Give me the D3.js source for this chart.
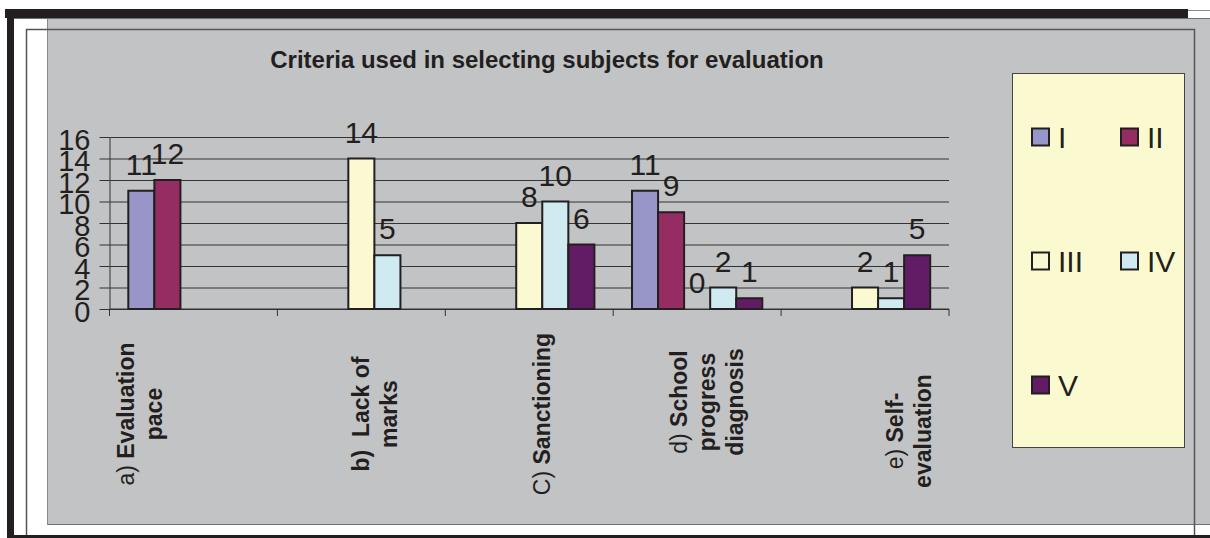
<!DOCTYPE html>
<html>
<head>
<meta charset="utf-8">
<script src="https://cdn.jsdelivr.net/npm/d3@7"></script>
<style>
  html, body { margin: 0; padding: 0; background: #ffffff; }
  svg { display: block; }
  text { font-family: "Liberation Sans", Arial, sans-serif; fill: #231f20; }
</style>
</head>
<body>
<svg id="chart" width="1210" height="538"></svg>
<script>
// ---- data ----
const categories = ["a", "b", "c", "d", "e"];
// wrapped category captions: each line is [regular part, bold part]
const categoryLines = [
  [["a) ", "Evaluation"], ["", "pace"]],
  [["", "b)\u00a0 Lack of"], ["", "marks"]],
  [["C) ", "Sanctioning"]],
  [["d) ", "School"], ["", "progress"], ["", "diagnosis"]],
  [["e) ", "Self-"], ["", "evaluation"]]
];
const seriesNames = ["I", "II", "III", "IV", "V"];
const valuesI   = [11, null, null, 11, null];
const valuesII  = [12, null, null, 9, null];
const valuesIII = [null, 14, 8, 0, 2];
const valuesIV  = [null, 5, 10, 2, 1];
const valuesV   = [null, null, 6, 1, 5];
const seriesColors = ["#9896c9", "#952d62", "#fbf9d2", "#cfebf1", "#621c65"];
const yTicks = [0, 2, 4, 6, 8, 10, 12, 14, 16];
const title = "Criteria used in selecting subjects for evaluation";

const seriesValues = [valuesI, valuesII, valuesIII, valuesIV, valuesV];

// ---- frame ----
const svg = d3.select("#chart");
const ink = "#231f20";

// grey chart area
svg.append("rect").attr("x", 47).attr("y", 18).attr("width", 1163).attr("height", 507)
  .attr("fill", "#c2c3c5");
svg.append("line").attr("x1", 47).attr("x2", 1210).attr("y1", 524.5).attr("y2", 524.5)
  .attr("stroke", "#6e6e6e").attr("stroke-width", 1);
svg.append("line").attr("x1", 47.5).attr("x2", 47.5).attr("y1", 18).attr("y2", 525)
  .attr("stroke", "#8a8a8a").attr("stroke-width", 1);
svg.append("line").attr("x1", 14).attr("x2", 1210).attr("y1", 18.5).attr("y2", 18.5)
  .attr("stroke", "#6e6e6e").attr("stroke-width", 1);

// thin inner frame
svg.append("path").attr("d", "M26.5,535 V29.5 H1194.5 V538")
  .attr("fill", "none").attr("stroke", "#555").attr("stroke-width", 1.5);

// heavy black border pieces
svg.append("rect").attr("x", 5).attr("y", 9).attr("width", 1183).attr("height", 9).attr("fill", ink);
svg.append("line").attr("x1", 1188).attr("x2", 1210).attr("y1", 10.5).attr("y2", 10.5)
  .attr("stroke", "#8a8a8a").attr("stroke-width", 1);
svg.append("rect").attr("x", 7).attr("y", 9).attr("width", 7).attr("height", 529).attr("fill", ink);
svg.append("rect").attr("x", 7).attr("y", 535).attr("width", 1203).attr("height", 3).attr("fill", ink);

// ---- title ----
svg.append("text").attr("x", 547).attr("y", 68).attr("text-anchor", "middle")
  .attr("font-size", 24).attr("font-weight", "bold").text(title);

// ---- scales ----
const plotLeft = 109.5, plotRight = 949, plotTop = 137, plotBottom = 309;
const x0 = d3.scaleBand().domain(categories).range([plotLeft, plotRight]).padding(0);
const groupFrac = 0.776;
const x1 = d3.scaleBand().domain(seriesNames)
  .range([x0.bandwidth() * (1 - groupFrac) / 2, x0.bandwidth() * (1 + groupFrac) / 2]);
const y = d3.scaleLinear().domain([0, 16]).range([plotBottom, plotTop]);

// ---- gridlines & y axis ----
const yAxis = d3.axisLeft(y).tickValues(yTicks).tickSize(-(plotRight - plotLeft)).tickSizeOuter(0)
  .tickFormat(d3.format("d")).tickPadding(19);
const gy = svg.append("g").attr("transform", `translate(${plotLeft},0)`).call(yAxis);
gy.select(".domain").attr("stroke", "#333").attr("stroke-width", 1);
gy.selectAll(".tick line").attr("stroke", "#333").attr("stroke-width", 1);
gy.selectAll(".tick").append("line").attr("x1", -10).attr("x2", 0)
  .attr("stroke", "#333").attr("stroke-width", 1);
gy.selectAll(".tick text").attr("font-size", 29).attr("fill", ink)
  .attr("font-family", "'Liberation Sans', Arial, sans-serif").attr("dy", "0.42em");

// ---- x axis with category separators ----
svg.append("line").attr("x1", plotLeft).attr("x2", plotRight).attr("y1", plotBottom).attr("y2", plotBottom)
  .attr("stroke", "#333").attr("stroke-width", 1.2);
const sepPositions = categories.map(c => x0(c)).concat([x0.range()[1]]);
svg.append("g").selectAll("line").data(sepPositions).join("line")
  .attr("x1", d => d).attr("x2", d => d).attr("y1", plotBottom).attr("y2", plotBottom + 7)
  .attr("stroke", "#333").attr("stroke-width", 1);

// ---- bars ----
const barData = [];
seriesNames.forEach((s, si) => {
  categories.forEach((c, ci) => {
    const v = seriesValues[si][ci];
    if (v !== null) barData.push({ s, si, c, v });
  });
});
const bars = svg.append("g");
bars.selectAll("rect").data(barData).join("rect")
  .attr("x", d => x0(d.c) + x1(d.s))
  .attr("y", d => y(d.v))
  .attr("width", x1.bandwidth())
  .attr("height", d => y(0) - y(d.v))
  .attr("fill", d => seriesColors[d.si])
  .attr("stroke", ink).attr("stroke-width", 2);

// value labels
svg.append("g").selectAll("text").data(barData).join("text")
  .attr("x", d => x0(d.c) + x1(d.s) + x1.bandwidth() / 2)
  .attr("y", d => y(d.v) - 16)
  .attr("text-anchor", "middle").attr("font-size", 30)
  .text(d => d.v);

// ---- rotated category captions ----
const captionPlace = [
  { dx: -59, cy: 414 }, { dx: 8, cy: 414 }, { dx: 21, cy: 414 }, { dx: -10, cy: 402 }, { dx: 38, cy: 431 }
];
categories.forEach((c, ci) => {
  const cx = x0(c) + x0.bandwidth() / 2 + captionPlace[ci].dx;
  const g = svg.append("g").attr("transform", `translate(${cx},${captionPlace[ci].cy}) rotate(-90)`);
  categoryLines[ci].forEach((ln, li) => {
    const t = g.append("text").attr("x", 0).attr("y", li * 28)
      .attr("text-anchor", "middle").attr("font-size", 23);
    if (ln[0]) t.append("tspan").attr("font-weight", "normal").text(ln[0]);
    t.append("tspan").attr("font-weight", "bold").text(ln[1]);
  });
});

// ---- legend ----
svg.append("rect").attr("x", 1012.5).attr("y", 73.5).attr("width", 172).attr("height", 374)
  .attr("fill", "#fbf9d0").attr("stroke", "#444").attr("stroke-width", 1);
const legend = svg.append("g").selectAll("g").data(seriesNames).join("g")
  .attr("transform", (d, i) => `translate(${1032 + (i % 2) * 89},${137 + Math.floor(i / 2) * 124})`);
legend.append("rect").attr("x", 0).attr("y", -8.5).attr("width", 17).attr("height", 17)
  .attr("fill", (d, i) => seriesColors[i]).attr("stroke", ink).attr("stroke-width", 2);
legend.append("text").attr("x", 26).attr("y", 11).attr("font-size", 30).text(d => d);
</script>
</body>
</html>
